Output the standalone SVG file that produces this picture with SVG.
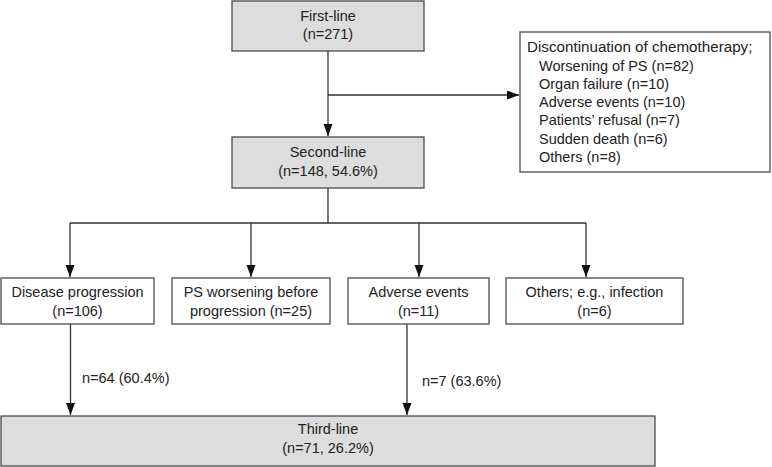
<svg xmlns="http://www.w3.org/2000/svg" width="772" height="467" viewBox="0 0 772 467">
<style>
  .box { fill: #ffffff; stroke: #4a4a4a; stroke-width: 1.3; }
  .gbox { fill: #dcdddc; stroke: #4a4a4a; stroke-width: 1.3; }
  text { font-family: "Liberation Sans", Arial, sans-serif; font-size: 14.5px; fill: #222222; }
  .c { text-anchor: middle; }
  .conn { fill: none; stroke: #333333; stroke-width: 1.3; }
</style>
<defs>
  <marker id="arr" markerUnits="userSpaceOnUse" markerWidth="13" markerHeight="10" refX="12" refY="4.5" orient="auto">
    <path d="M0,0 L12,4.5 L0,9 z" fill="#111111"/>
  </marker>
</defs>
<rect width="772" height="467" fill="#ffffff"/>

<g id="connectors">
  <path class="conn" d="M328,51 V136" marker-end="url(#arr)"/>
  <path class="conn" d="M328,95 H519" marker-end="url(#arr)"/>
  <path class="conn" d="M328,188 V223 M70,223 H586"/>
  <path class="conn" d="M70,223 V277" marker-end="url(#arr)"/>
  <path class="conn" d="M251,223 V277" marker-end="url(#arr)"/>
  <path class="conn" d="M419,223 V277" marker-end="url(#arr)"/>
  <path class="conn" d="M586,223 V277" marker-end="url(#arr)"/>
  <path class="conn" d="M70.5,324 V415" marker-end="url(#arr)"/>
  <path class="conn" d="M407,324 V415" marker-end="url(#arr)"/>
  <text x="82" y="383">n=64 (60.4%)</text>
  <text x="422" y="386">n=7 (63.6%)</text>
</g>

<g id="first-line">
  <rect class="gbox" x="232" y="1" width="192" height="50"/>
  <text class="c" x="328" y="21">First-line</text>
  <text class="c" x="328" y="39">(n=271)</text>
</g>

<g id="discontinuation">
  <rect class="box" x="520" y="32" width="250" height="140"/>
  <text x="527" y="52" style="font-size:15.2px">Discontinuation of chemotherapy;</text>
  <text x="539" y="71">Worsening of PS (n=82)</text>
  <text x="539" y="89">Organ failure (n=10)</text>
  <text x="539" y="107">Adverse events (n=10)</text>
  <text x="539" y="125">Patients’ refusal (n=7)</text>
  <text x="539" y="144">Sudden death (n=6)</text>
  <text x="539" y="162">Others (n=8)</text>
</g>

<g id="second-line">
  <rect class="gbox" x="232" y="137" width="192" height="51"/>
  <text class="c" x="328" y="157">Second-line</text>
  <text class="c" x="328" y="176">(n=148, 54.6%)</text>
</g>

<g id="disease-progression">
  <rect class="box" x="1" y="278" width="153" height="46"/>
  <text class="c" x="77.5" y="297">Disease progression</text>
  <text class="c" x="77.5" y="316">(n=106)</text>
</g>

<g id="ps-worsening">
  <rect class="box" x="172" y="278" width="158" height="46"/>
  <text class="c" x="251" y="297">PS worsening before</text>
  <text class="c" x="251" y="316">progression (n=25)</text>
</g>

<g id="adverse-events">
  <rect class="box" x="348" y="278" width="141" height="46"/>
  <text class="c" x="418.5" y="297">Adverse events</text>
  <text class="c" x="418.5" y="316">(n=11)</text>
</g>

<g id="others">
  <rect class="box" x="506" y="278" width="177" height="46"/>
  <text class="c" x="594.5" y="297">Others; e.g., infection</text>
  <text class="c" x="594.5" y="316">(n=6)</text>
</g>

<g id="third-line">
  <rect class="gbox" x="1" y="416" width="654" height="50"/>
  <text class="c" x="328" y="434">Third-line</text>
  <text class="c" x="328" y="453">(n=71, 26.2%)</text>
</g>
</svg>
